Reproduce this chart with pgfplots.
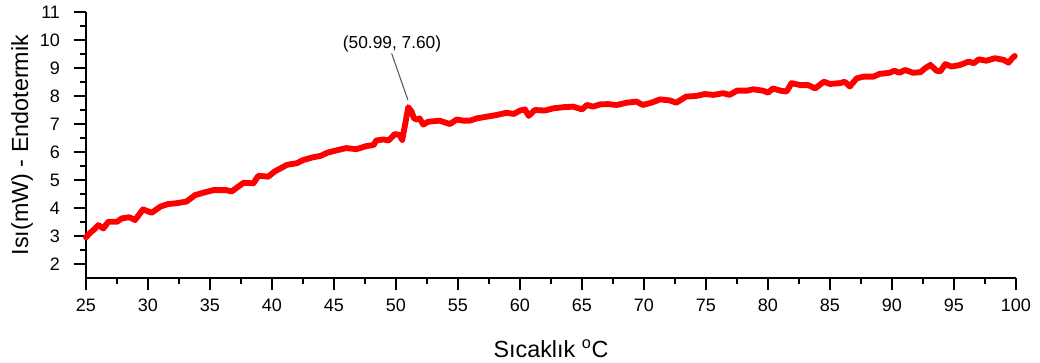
\documentclass[border=0pt]{standalone}
\usepackage{fontspec}
\setmainfont{Liberation Sans}
\usepackage{pgfplots}
\pgfplotsset{compat=1.18}
\usepackage{pgfplotstable}

% DSC heat flow trace
\pgfplotstableread{
x y
25.0 2.95
25.3 3.10
25.7 3.25
26.0 3.39
26.4 3.27
26.8 3.51
27.5 3.51
27.9 3.63
28.5 3.67
28.95 3.57
29.6 3.95
30.3 3.83
31.0 4.05
31.6 4.14
32.3 4.17
33.1 4.23
33.8 4.46
34.5 4.55
35.3 4.64
36.3 4.64
36.75 4.59
37.7 4.90
38.5 4.88
38.9 5.15
39.7 5.12
40.2 5.30
41.2 5.54
42.0 5.60
42.5 5.71
43.3 5.81
43.9 5.86
44.5 5.98
45.3 6.07
46.0 6.14
46.8 6.10
47.6 6.21
48.2 6.25
48.4 6.41
49.0 6.45
49.4 6.41
49.9 6.64
50.3 6.61
50.5 6.43
50.7 6.90
50.99 7.60
51.26 7.44
51.45 7.20
51.7 7.16
51.9 7.20
52.2 6.98
52.6 7.08
53.5 7.12
54.35 7.00
54.9 7.16
55.4 7.12
55.97 7.12
56.5 7.20
57.3 7.26
58.1 7.32
58.9 7.40
59.5 7.36
60.0 7.48
60.4 7.52
60.7 7.29
61.2 7.50
62.0 7.48
62.7 7.56
63.5 7.60
64.3 7.62
65.0 7.52
65.4 7.68
65.9 7.62
66.45 7.70
67.1 7.71
67.8 7.68
68.6 7.76
69.4 7.80
69.9 7.68
70.6 7.76
71.3 7.88
72.1 7.84
72.6 7.76
73.4 7.98
74.2 8.00
74.9 8.07
75.6 8.04
76.4 8.10
76.9 8.04
77.5 8.19
78.3 8.19
78.8 8.24
79.6 8.19
80.0 8.12
80.4 8.27
81.0 8.19
81.5 8.16
81.9 8.46
82.6 8.39
83.25 8.39
83.8 8.27
84.5 8.51
85.0 8.43
85.8 8.46
86.2 8.51
86.6 8.34
87.15 8.63
87.7 8.69
88.5 8.69
89.0 8.79
89.8 8.83
90.2 8.90
90.6 8.83
91.05 8.93
91.7 8.83
92.3 8.85
92.7 9.00
93.1 9.11
93.6 8.90
93.9 8.88
94.3 9.14
94.8 9.05
95.5 9.11
96.2 9.23
96.6 9.17
97.0 9.31
97.6 9.26
98.3 9.35
99.0 9.29
99.4 9.19
99.7 9.35
99.9 9.43
}\dscdata

\begin{document}
\begin{tikzpicture}
\useasboundingbox (-64.5pt,-63.75pt) rectangle (715.5pt,208.5pt);
\begin{axis}[
  at={(0pt,0pt)}, anchor=origin,
  scale only axis,
  width=697.5pt, height=199.5pt,
  xmin=25, xmax=100, ymin=1.5, ymax=11,
  axis x line*=bottom, axis y line*=left,
  axis line style={-, line width=1.5pt, black},
  xtick={25,30,...,100}, ytick={2,3,...,11},
  minor tick num=1,
  tick align=outside,
  major tick length=9pt, minor tick length=4.5pt,
  every tick/.style={line width=1.3pt, black},
  tick label style={font=\fontsize{13.5}{15}\selectfont},
  xticklabel style={yshift=-3pt},
  yticklabel style={xshift=-7pt},
  /pgf/number format/assume math mode=true,
  clip=false,
  xlabel={Sıcaklık \textsuperscript{o}C},
  ylabel={Isı(mW) - Endotermik},
  label style={font=\fontsize{17.5}{20}\selectfont},
  xlabel style={at={([yshift=-53pt]axis description cs:0.5,0)}, anchor=center},
  ylabel style={at={([xshift=-48pt]axis description cs:0,0.5)}, anchor=center},
]
\addplot[red, line width=4.4pt, line join=round, line cap=round] table[x=x, y=y] {\dscdata};
\draw[gray!70!black, line width=0.8pt] (axis cs:49.65,9.52) -- (axis cs:50.96,7.86);
\node[font=\fontsize{13}{15}\selectfont, anchor=center] at (axis cs:49.68,9.86) {(50.99, 7.60)};
\end{axis}
\end{tikzpicture}
\end{document}
